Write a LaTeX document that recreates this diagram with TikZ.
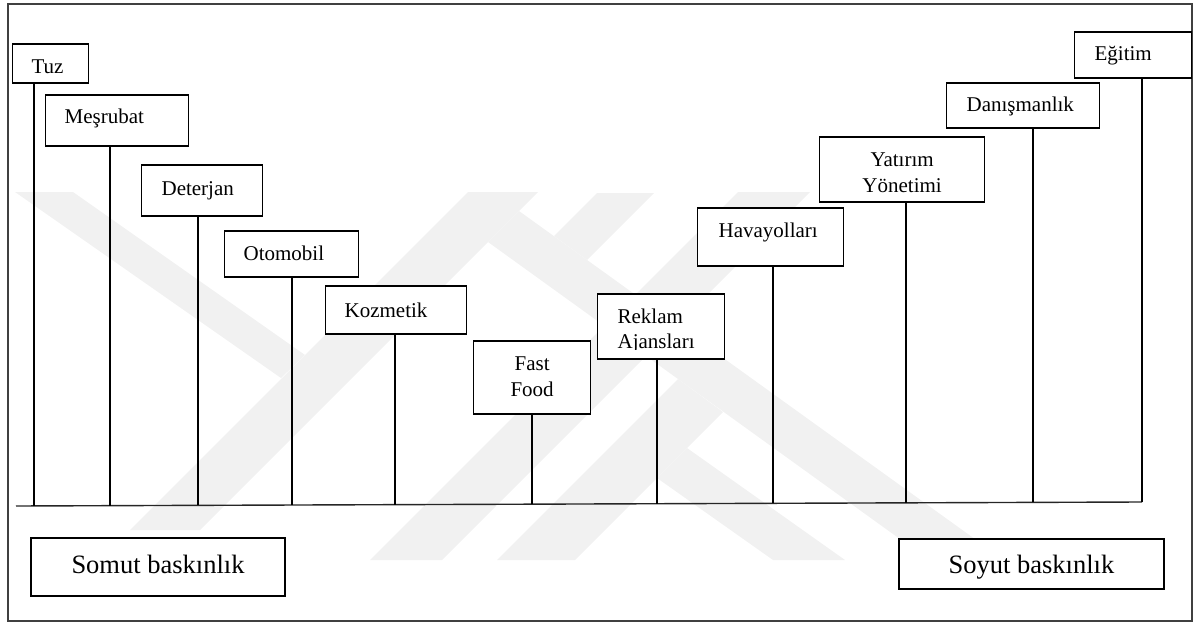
\documentclass[tikz,border=0pt]{standalone}
\usepackage{fontspec}
\setmainfont{Liberation Serif}
\usetikzlibrary{calc}
\definecolor{wm}{gray}{0.945}
\newcommand\tagfont{\fontsize{21}{26.5}\selectfont}
\newcommand\poolfont{\fontsize{26.5}{31}\selectfont}
\begin{document}
\begin{tikzpicture}[x=1pt,y=-1pt,
  tag/.style={draw=black, line width=1.2pt, fill=white, inner ysep=0pt,
    anchor=base west, font=\tagfont, align=left},
  ctag/.style={tag, inner xsep=0pt, align=center},
  pole/.style={draw=black, line width=1.15pt},
  axisline/.style={draw=black!85, line width=1.4pt},
  pool/.style={draw=black, line width=2.4pt, fill=white, inner sep=0pt,
    anchor=base, font=\poolfont},
  frameline/.style={draw=black!75, line width=1.3pt},
  band/.style={fill=wm}]
\useasboundingbox (0,0) rectangle (1197,623);

% faint background emblem
\fill[band] (15,192) -- (73,192) -- (305,355) -- (281,378) -- cycle;
\fill[band] (130,530) -- (200,530) -- (538,192) -- (468,192) -- cycle;
\fill[band] (519,211) -- (1004,560) -- (929,560) -- (488,242) -- cycle;
\fill[band] (370,560) -- (442,560) -- (810,192) -- (738,192) -- cycle;
\fill[band] (597,193) -- (654,193) -- (587,260) -- (554,236) -- cycle;
\fill[band] (497,560) -- (575,560) -- (723,412) -- (678,379) -- cycle;
\fill[band] (687,448) -- (845,560) -- (773,560) -- (657,478) -- cycle;

% outer frame
\draw[frameline] (8,4) rectangle (1192,621);

% product / service boxes
\node[tag, inner xsep=19pt, text width=38pt, text height=30pt, text depth=9pt] (tuz) at (12,74) {Tuz};
\node[tag, inner xsep=19pt, text width=105pt, text height=29pt, text depth=22pt] (mes) at (45,124) {Meşrubat};
\node[tag, inner xsep=20pt, text width=81pt, text height=30pt, text depth=21pt] (det) at (141,195) {Deterjan};
\node[tag, inner xsep=19pt, text width=96pt, text height=29pt, text depth=17pt] (oto) at (224,260) {Otomobil};
\node[tag, inner xsep=19pt, text width=103pt, text height=31pt, text depth=17pt] (koz) at (325,317) {Kozmetik};
\node[ctag, text width=117pt, text height=29pt, text depth=44pt] (fast) at (473,370) {Fast\\Food};
\node[tag, inner xsep=20pt, text width=87pt, text height=29pt, text depth=36pt,
  font={\fontsize{21}{25.5}\selectfont}] (rek) at (597,323) {Reklam\\Ajansları};
% the second line is cut off by the box's inner margin
\fill[white] ($(rek.south west)+(1.2,-1.2)$) rectangle ($(rek.south east)+(-1.2,-9.6)$);
\node[tag, inner xsep=21pt, text width=104pt, text height=29pt, text depth=29pt] (hav) at (697,237) {Havayolları};
\node[ctag, text width=165pt, text height=30pt, text depth=35pt,
  font={\fontsize{21}{26}\selectfont}] (yat) at (819,167) {Yatırım\\Yönetimi};
\node[tag, inner xsep=20pt, text width=113pt, text height=29pt, text depth=16pt] (dan) at (946,112) {Danışmanlık};
\node[tag, inner xsep=20pt, text width=77pt, text height=29pt, text depth=17pt] (egi) at (1074,61) {Eğitim};

% base line and the stems standing on it
\coordinate (bl) at (16,506);
\coordinate (br) at (1142,502);
\draw[axisline] (bl) -- (br);
\foreach \n/\x in {tuz/34,mes/110,det/198,oto/292,koz/395,fast/532,rek/657,hav/773,yat/906,dan/1033,egi/1142}
{
  \coordinate (f\n) at ($(bl)!{(\x-16)/1126}!(br)$);
  \draw[pole] (\n.south -| f\n) -- (f\n);
}

% the two poles of the scale
\node[pool, minimum width=254pt, text height=35pt, text depth=23pt] (somut) at (158,573) {Somut baskınlık};
\node[pool, minimum width=265pt, text height=34pt, text depth=16pt] (soyut) at (1031.5,573) {Soyut baskınlık};
\end{tikzpicture}
\end{document}
